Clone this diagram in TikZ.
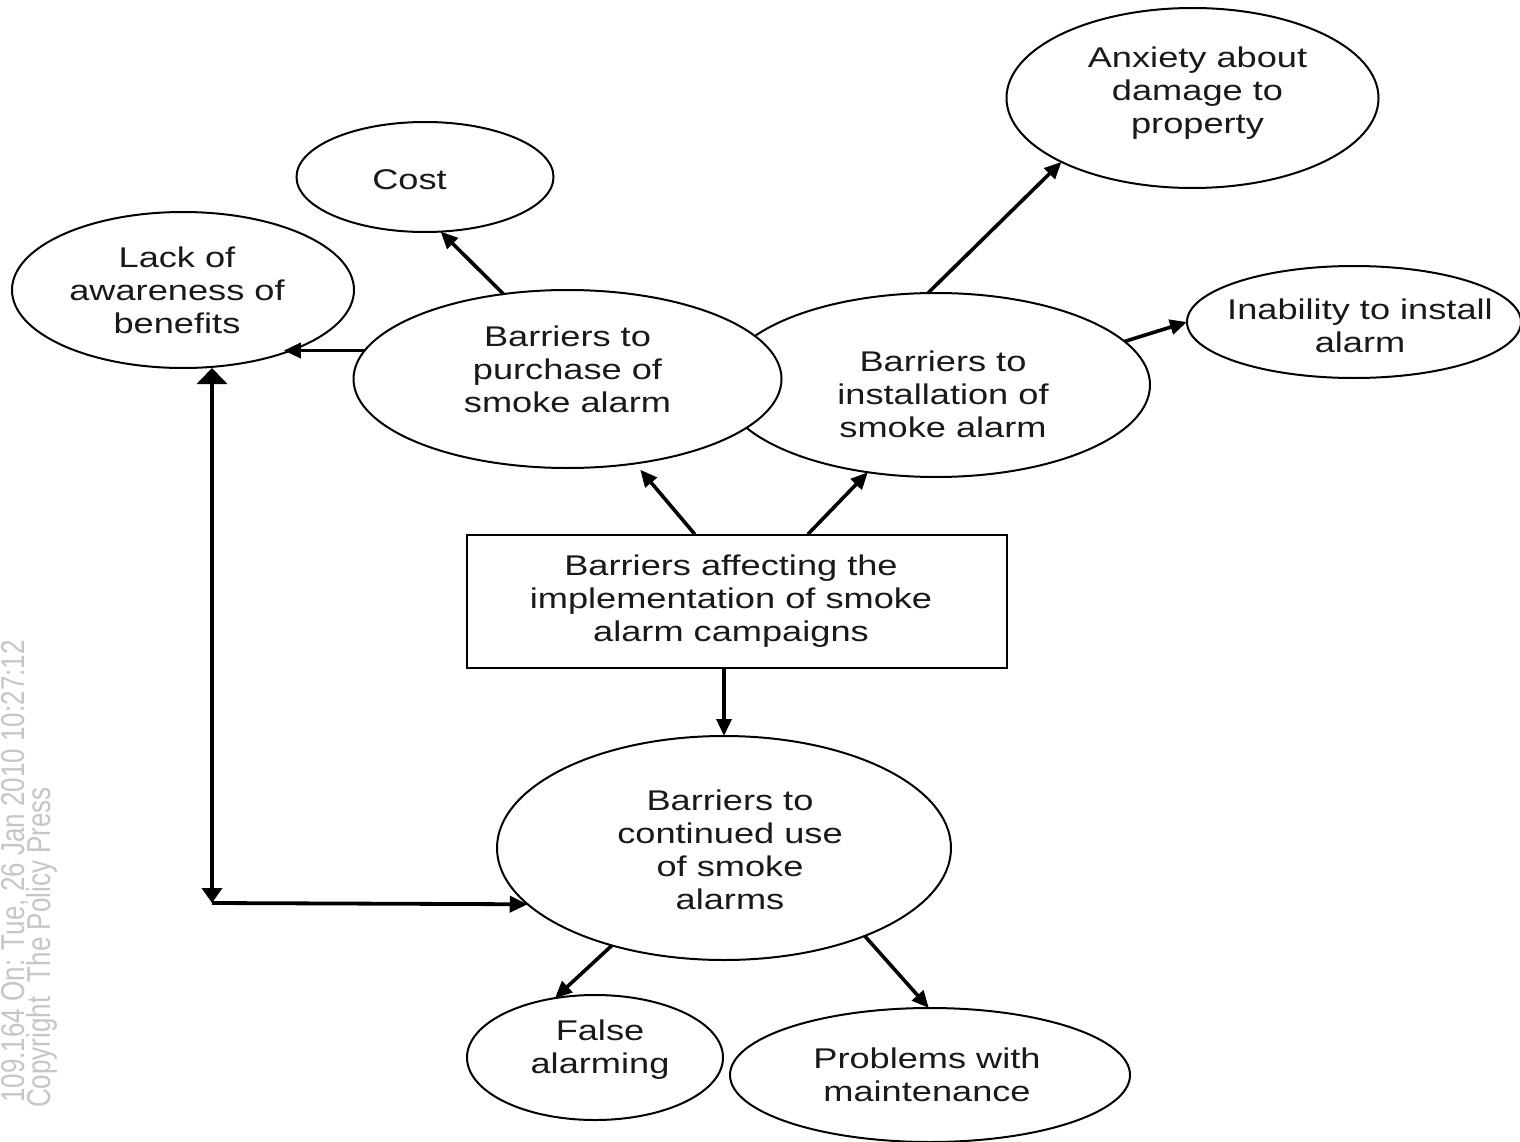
\documentclass[tikz,border=0pt]{standalone}
\usepackage{fontspec}
\setmainfont{Liberation Sans}[FakeStretch=1.27]
\newfontfamily\wmfont{Liberation Sans}
\usetikzlibrary{shapes.geometric,arrows.meta,calc}
\begin{document}
\begin{tikzpicture}[x=1pt,y=-1pt,
  ell/.style={draw, ellipse, line width=2pt, fill=white, inner sep=0pt, outer sep=0pt},
  txt/.style={align=center, inner sep=0pt, font=\fontsize{28.5}{33}\selectfont, text=black!90},
  wm/.style={rotate=90, yscale=1.27, inner sep=0pt, font=\wmfont\fontsize{26}{30}\selectfont, text=gray!45},
  conn/.style={line width=3.6pt, -{Triangle[length=17pt,width=15pt]}},
]
\useasboundingbox (0,0) rectangle (1520,1142);
\fill[white] (0,0) rectangle (1520,1142);
% watermark
\node[wm, anchor=base east] (wm1) at (24,640) {109.164 On: Tue, 26 Jan 2010 10:27:12};
\node[wm, anchor=base west] (wm2) at (50,1108) {Copyright~ The Policy Press};
% ellipses
\node[ell, minimum width=257pt, minimum height=110pt,
  label={[txt,xshift=-15.5pt,yshift=-3pt]center:Cost}] (cost) at (425,177) {};
\node[ell, minimum width=342pt, minimum height=156pt,
  label={[txt,xshift=-6pt]center:{Lack of\\awareness of\\benefits}}] (lack) at (183,290) {};
\node[ell, minimum width=428pt, minimum height=184pt,
  label={[txt,xshift=7pt,yshift=-9pt]center:{Barriers to\\installation of\\smoke alarm}}] (inst) at (936,385) {};
\node[ell, minimum width=428pt, minimum height=178pt,
  label={[txt,yshift=10pt]center:{Barriers to\\purchase of\\smoke alarm}}] (purch) at (567.5,379) {};
\node[ell, minimum width=372pt, minimum height=180pt,
  label={[txt,xshift=5pt,yshift=5pt]center:{Anxiety about\\damage to\\property}}] (anx) at (1192.5,98) {};
\node[ell, minimum width=334pt, minimum height=112pt,
  label={[txt,xshift=6pt,yshift=-4pt]center:{Inability to install\\alarm}}] (inab) at (1354,322) {};
\node[draw, line width=1.6pt, minimum width=540pt, minimum height=133pt, inner sep=0pt,
  label={[txt,xshift=-6pt]center:{Barriers affecting the\\implementation of smoke\\alarm campaigns}}] (box) at (737,601.5) {};
\node[ell, minimum width=454pt, minimum height=224pt,
  label={[txt,xshift=6pt,yshift=-1.5pt]center:{Barriers to\\continued use\\of smoke\\alarms}}] (cont) at (724,848) {};
\node[ell, minimum width=256pt, minimum height=125pt,
  label={[txt,xshift=5pt,yshift=8pt]center:{False\\alarming}}] (false) at (595,1057.5) {};
\node[ell, minimum width=400pt, minimum height=134pt,
  label={[txt,xshift=-3pt]center:{Problems with\\maintenance}}] (maint) at (930,1075) {};
% connectors
\draw[conn] (purch.127) -- (cost.-74);
\draw[conn] (purch.172) -- (purch.172 -| lack.-32.6);
\draw[conn] (inst.95) -- (anx.206);
\draw[conn] (inst.13) -- (inab.west);
\draw[conn] ($(box.north west)!0.422!(box.north east)$) -- ($(purch.-49)+(0,7)$);
\draw[conn] ($(box.north west)!0.631!(box.north east)$) -- (inst.-128.5);
\draw[conn] (cont.north |- box.south) -- (cont.north);
\draw[conn] (cont.-139.6) -- (false.124);
\draw[conn] (cont.-32.8) -- (maint.91);
\coordinate (corner) at (212,903);
\draw[line width=3.8pt, {Triangle[length=16pt,width=30pt]}-{Triangle[length=15pt,width=20pt]}] (corner |- lack.south) -- (corner);
\draw[line width=3.8pt, -{Triangle[length=18pt,width=16pt]}] (corner) -- (cont.-164.5);
\end{tikzpicture}
\end{document}
